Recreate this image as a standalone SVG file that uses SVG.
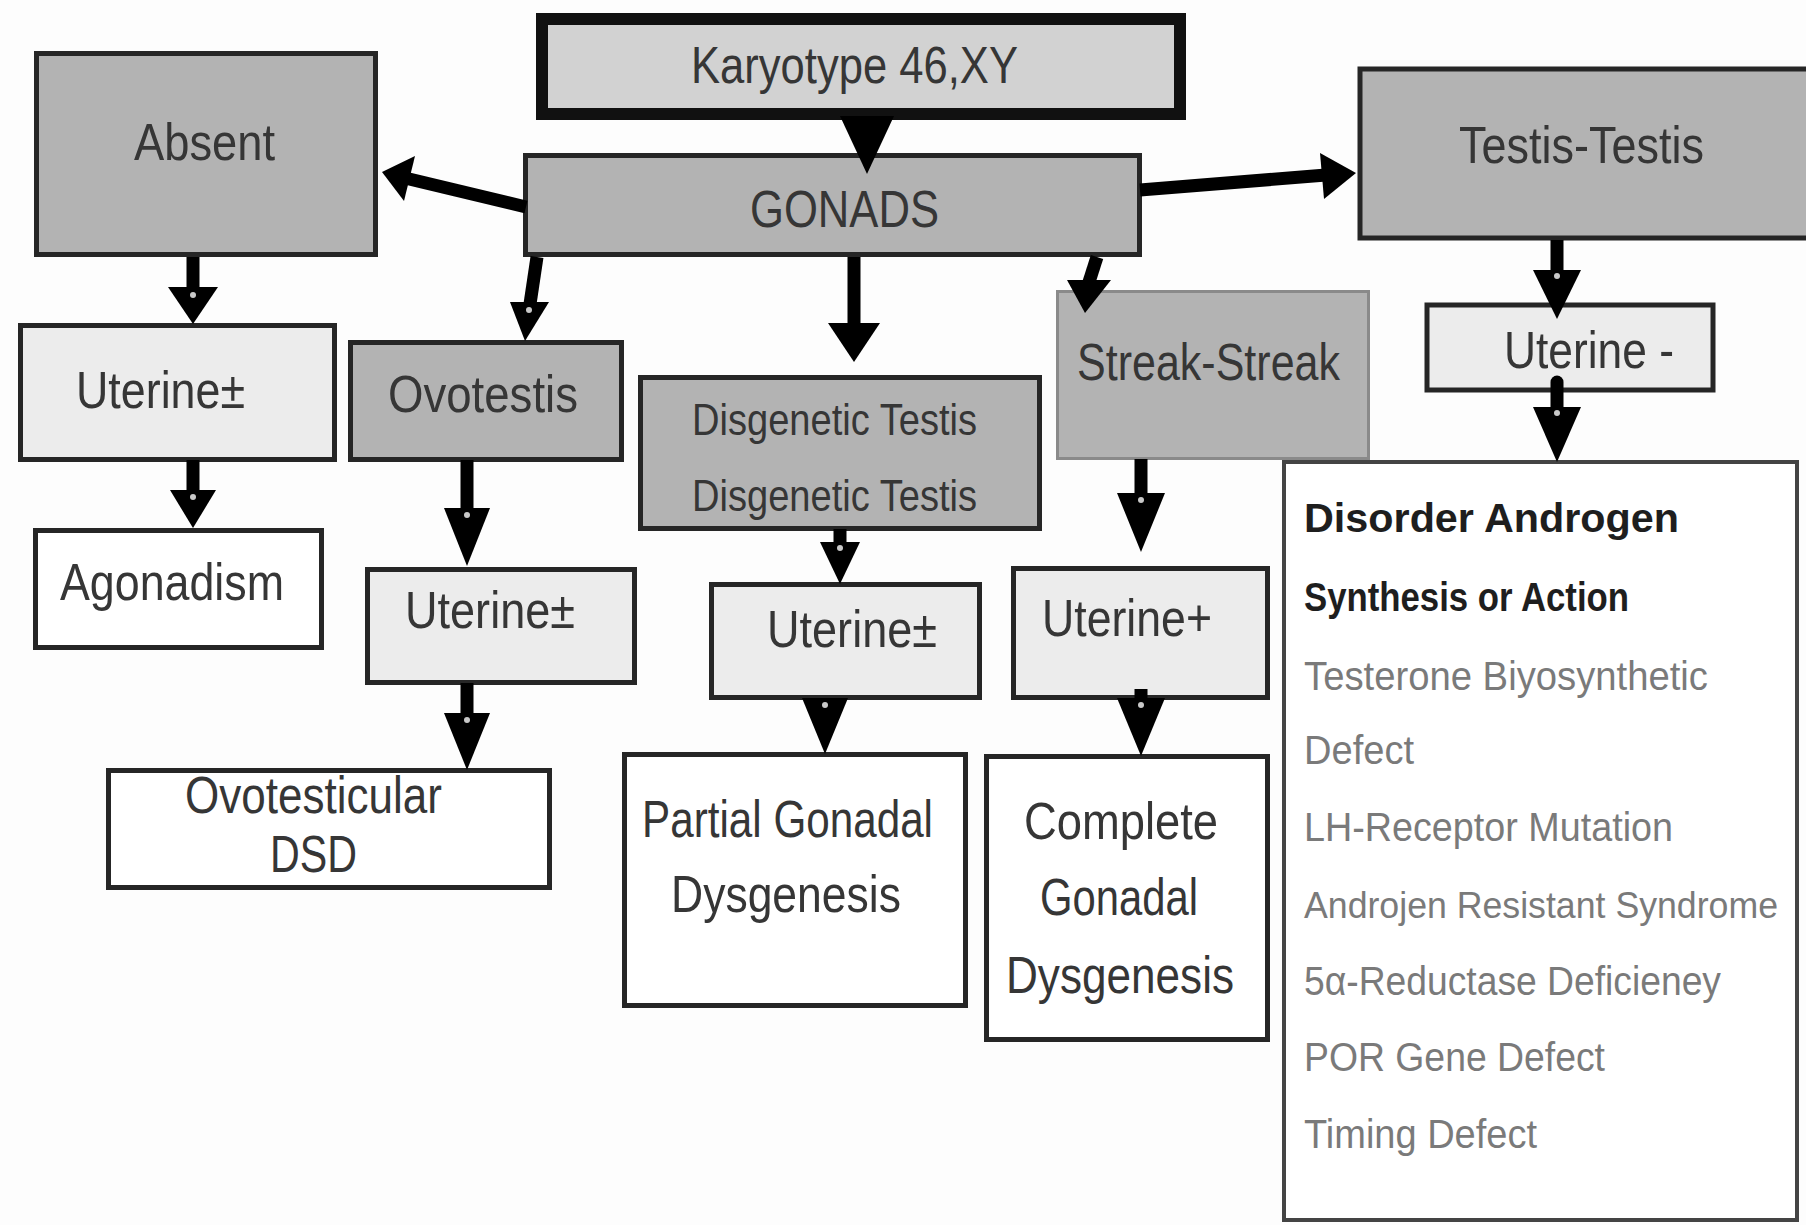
<svg xmlns="http://www.w3.org/2000/svg" width="1806" height="1225" viewBox="0 0 1806 1225">
  <style>
    .box { stroke: #262626; stroke-width: 5; }
    .dark { fill: #b3b3b3; }
    .mid { fill: #d2d2d2; }
    .light { fill: #ececec; }
    .white { fill: #ffffff; }
    .lbl { font-family: "Liberation Sans Narrow", "Liberation Sans", Arial, sans-serif; font-size: 52px; fill: #363636; }
    .sm { font-size: 44px; }
    .list { font-family: "Liberation Sans", Arial, sans-serif; font-size: 40px; fill: #7a7a7a; }
    .tight { font-size: 36px; }
    .head { fill: #1e1e1e; font-weight: bold; }
    .shaft { stroke: #000; stroke-width: 13; fill: none; }
    .tip { fill: #000; }
    .dot { fill: #c8c8c8; }
  </style>

  <rect x="0" y="0" width="1806" height="1225" fill="#fdfdfd"/>

  <g id="karyotype">
    <rect x="542" y="19" width="638" height="95" class="mid" stroke="#111" stroke-width="12"/>
    <text class="lbl" x="691" y="83" textLength="327" lengthAdjust="spacingAndGlyphs">Karyotype 46,XY</text>
  </g>

  <g id="gonads">
    <rect x="525.5" y="155.5" width="614" height="99" class="box dark"/>
    <text class="lbl" x="750" y="227" textLength="189" lengthAdjust="spacingAndGlyphs">GONADS</text>
  </g>

  <g id="absent">
    <rect x="36.5" y="53.5" width="339" height="201" class="box dark" stroke-width="7"/>
    <text class="lbl" x="134" y="160" textLength="141" lengthAdjust="spacingAndGlyphs">Absent</text>
  </g>

  <g id="testis-testis">
    <rect x="1360" y="69" width="460" height="169" class="box dark" stroke-width="8"/>
    <text class="lbl" x="1459" y="163" textLength="245" lengthAdjust="spacingAndGlyphs">Testis-Testis</text>
  </g>

  <g id="uterine-absent">
    <rect x="20.5" y="325.5" width="314" height="134" class="box light"/>
    <text class="lbl" x="76" y="408" textLength="169" lengthAdjust="spacingAndGlyphs">Uterine±</text>
  </g>

  <g id="ovotestis">
    <rect x="350.5" y="342.5" width="271" height="117" class="box dark"/>
    <text class="lbl" x="388" y="412" textLength="190" lengthAdjust="spacingAndGlyphs">Ovotestis</text>
  </g>

  <g id="disgenetic">
    <rect x="640.5" y="377.5" width="399" height="151" class="box dark"/>
    <text class="lbl sm" x="692" y="435" textLength="285" lengthAdjust="spacingAndGlyphs">Disgenetic Testis</text>
    <text class="lbl sm" x="692" y="511" textLength="285" lengthAdjust="spacingAndGlyphs">Disgenetic Testis</text>
  </g>

  <g id="streak-streak">
    <rect x="1057.5" y="291.5" width="311" height="167" class="dark" stroke="#8a8a8a" stroke-width="3"/>
    <text class="lbl" x="1077" y="380" textLength="263" lengthAdjust="spacingAndGlyphs">Streak-Streak</text>
  </g>

  <g id="uterine-testis">
    <rect x="1427" y="305" width="286" height="85" class="box light" stroke-width="6"/>
    <text class="lbl" x="1504" y="368" textLength="170" lengthAdjust="spacingAndGlyphs">Uterine -</text>
  </g>

  <g id="agonadism">
    <rect x="35.5" y="530.5" width="286" height="117" class="box white"/>
    <text class="lbl" x="60" y="600" textLength="224" lengthAdjust="spacingAndGlyphs">Agonadism</text>
  </g>

  <g id="uterine-ovotestis">
    <rect x="367.5" y="569.5" width="267" height="113" class="box light"/>
    <text class="lbl" x="405" y="628" textLength="170" lengthAdjust="spacingAndGlyphs">Uterine±</text>
  </g>

  <g id="ovotesticular-dsd">
    <rect x="108.5" y="770.5" width="441" height="117" class="box white"/>
    <text class="lbl" x="185" y="813" textLength="257" lengthAdjust="spacingAndGlyphs">Ovotesticular</text>
    <text class="lbl" x="270" y="872" textLength="87" lengthAdjust="spacingAndGlyphs">DSD</text>
  </g>

  <g id="uterine-disgenetic">
    <rect x="711.5" y="584.5" width="268" height="113" class="box light"/>
    <text class="lbl" x="767" y="647" textLength="170" lengthAdjust="spacingAndGlyphs">Uterine±</text>
  </g>

  <g id="uterine-streak">
    <rect x="1013.5" y="568.5" width="254" height="129" class="box light"/>
    <text class="lbl" x="1042" y="636" textLength="170" lengthAdjust="spacingAndGlyphs">Uterine+</text>
  </g>

  <g id="partial-gonadal-dysgenesis">
    <rect x="624.5" y="754.5" width="341" height="251" class="box white"/>
    <text class="lbl" x="642" y="837" textLength="291" lengthAdjust="spacingAndGlyphs">Partial Gonadal</text>
    <text class="lbl" x="671" y="912" textLength="230" lengthAdjust="spacingAndGlyphs">Dysgenesis</text>
  </g>

  <g id="complete-gonadal-dysgenesis">
    <rect x="986.5" y="756.5" width="281" height="283" class="box white"/>
    <text class="lbl" x="1024" y="839" textLength="194" lengthAdjust="spacingAndGlyphs">Complete</text>
    <text class="lbl" x="1040" y="915" textLength="158" lengthAdjust="spacingAndGlyphs">Gonadal</text>
    <text class="lbl" x="1006" y="993" textLength="228" lengthAdjust="spacingAndGlyphs">Dysgenesis</text>
  </g>

  <g id="androgen-disorder">
    <rect x="1284" y="462" width="513" height="758" class="white" stroke="#444" stroke-width="4"/>
    <text class="list head" x="1304" y="532" textLength="375" lengthAdjust="spacingAndGlyphs">Disorder Androgen</text>
    <text class="list head" x="1304" y="611" textLength="325" lengthAdjust="spacingAndGlyphs">Synthesis or Action</text>
    <text class="list" x="1304" y="690" textLength="404" lengthAdjust="spacingAndGlyphs">Testerone Biyosynthetic</text>
    <text class="list" x="1304" y="764" textLength="110" lengthAdjust="spacingAndGlyphs">Defect</text>
    <text class="list" x="1304" y="841" textLength="369" lengthAdjust="spacingAndGlyphs">LH-Receptor Mutation</text>
    <text class="list tight" x="1304" y="918" textLength="474" lengthAdjust="spacingAndGlyphs">Androjen Resistant Syndrome</text>
    <text class="list" x="1304" y="995" textLength="417" lengthAdjust="spacingAndGlyphs">5α-Reductase Deficieney</text>
    <text class="list" x="1304" y="1071" textLength="301" lengthAdjust="spacingAndGlyphs">POR Gene Defect</text>
    <text class="list" x="1304" y="1148" textLength="233" lengthAdjust="spacingAndGlyphs">Timing Defect</text>
  </g>

  <g id="connectors">
    <!-- karyotype to gonads -->
    <polygon class="tip" points="840,116 894,116 867,174"/>
    <!-- gonads to absent -->
    <line class="shaft" x1="526" y1="207" x2="405" y2="178"/>
    <polygon class="tip" points="382,172 415,156 404,201"/>
    <!-- gonads to testis-testis -->
    <line class="shaft" x1="1140" y1="190" x2="1326" y2="175"/>
    <polygon class="tip" points="1356,173 1320,153 1324,199"/>
    <!-- gonads to ovotestis -->
    <line class="shaft" x1="537" y1="257" x2="530" y2="304"/>
    <polygon class="tip" points="510,302 549,302 525,341"/>
    <circle class="dot" cx="529" cy="310" r="3"/>
    <!-- gonads to disgenetic testis -->
    <line class="shaft" x1="854" y1="257" x2="854" y2="325"/>
    <polygon class="tip" points="828,323 880,323 854,362"/>
    <!-- gonads to streak-streak -->
    <line class="shaft" x1="1097" y1="257" x2="1089" y2="282"/>
    <polygon class="tip" points="1067,280 1111,280 1085,313"/>
    <!-- absent to uterine -->
    <line class="shaft" x1="193" y1="257" x2="193" y2="289"/>
    <polygon class="tip" points="168,287 218,287 193,324"/>
    <circle class="dot" cx="193" cy="295" r="3"/>
    <!-- uterine to agonadism -->
    <line class="shaft" x1="193" y1="460" x2="193" y2="492"/>
    <polygon class="tip" points="170,490 216,490 193,528"/>
    <circle class="dot" cx="193" cy="497" r="3"/>
    <!-- ovotestis to uterine -->
    <line class="shaft" x1="467" y1="460" x2="467" y2="510"/>
    <polygon class="tip" points="444,508 490,508 467,566"/>
    <circle class="dot" cx="467" cy="515" r="3"/>
    <!-- uterine to ovotesticular dsd -->
    <line class="shaft" x1="467" y1="683" x2="467" y2="715"/>
    <polygon class="tip" points="444,713 490,713 467,770"/>
    <circle class="dot" cx="467" cy="720" r="3"/>
    <!-- disgenetic testis to uterine -->
    <line class="shaft" x1="840" y1="529" x2="840" y2="544"/>
    <polygon class="tip" points="820,542 860,542 840,584"/>
    <circle class="dot" cx="840" cy="548" r="3"/>
    <!-- uterine to partial gonadal dysgenesis -->
    <polygon class="tip" points="802,698 848,698 825,754"/>
    <circle class="dot" cx="825" cy="705" r="3"/>
    <!-- streak-streak to uterine -->
    <line class="shaft" x1="1141" y1="459" x2="1141" y2="495"/>
    <polygon class="tip" points="1117,493 1165,493 1141,552"/>
    <circle class="dot" cx="1141" cy="500" r="3"/>
    <!-- uterine to complete gonadal dysgenesis -->
    <line class="shaft" x1="1141" y1="689" x2="1141" y2="700"/>
    <polygon class="tip" points="1117,698 1165,698 1141,756"/>
    <circle class="dot" cx="1141" cy="705" r="3"/>
    <!-- testis-testis to uterine -->
    <line class="shaft" x1="1557" y1="240" x2="1557" y2="272"/>
    <polygon class="tip" points="1533,270 1581,270 1557,319"/>
    <circle class="dot" cx="1557" cy="276" r="3"/>
    <!-- uterine to androgen disorder -->
    <line class="shaft" x1="1557" y1="382" x2="1557" y2="409" stroke-linecap="round"/>
    <polygon class="tip" points="1533,407 1581,407 1557,462"/>
    <circle class="dot" cx="1557" cy="413" r="3"/>
  </g>
</svg>
